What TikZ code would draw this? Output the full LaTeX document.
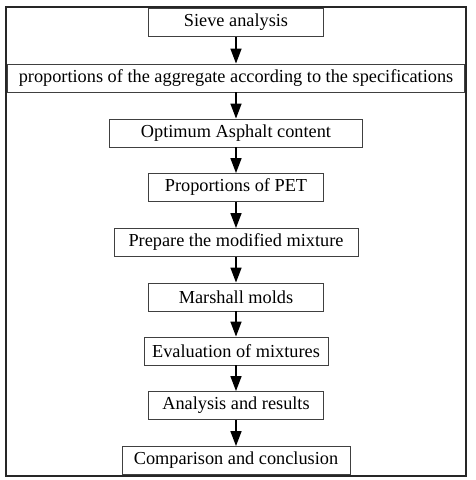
\documentclass[tikz,border=0pt]{standalone}
\usepackage{fontspec}
\setmainfont{Liberation Serif}
\usetikzlibrary{arrows.meta}
\tikzset{
    stage/.style={draw=black!75, line width=0.9pt, fill=white, minimum height=28pt,
        inner sep=2pt, font=\fontsize{18.3}{20}\selectfont},
    flow/.style={-{Triangle[length=15pt,width=11pt]}, line width=1.6pt, black}
}
\begin{document}
\begin{tikzpicture}[x=1pt,y=-1pt]
    \useasboundingbox (0,0) rectangle (475,480);
    % frame
    \draw [line width=2pt, black!85] (6,7) rectangle (466,476);
    % stages
    \node [stage, minimum width=175pt] (sieve) at (236,22.5) {Sieve analysis};
    \node [stage, minimum width=457pt] (aggr) at (236,78) {proportions of the aggregate according to the specifications};
    \node [stage, minimum width=253pt] (oac) at (236,133) {Optimum Asphalt content};
    \node [stage, minimum width=175pt] (pet) at (236,187.5) {Proportions of PET};
    \node [stage, minimum width=244pt] (prep) at (236,242.5) {Prepare the modified mixture};
    \node [stage, minimum width=175pt] (molds) at (236,297) {Marshall molds};
    \node [stage, minimum width=184pt] (eval) at (236,351) {Evaluation of mixtures};
    \node [stage, minimum width=175pt] (res) at (236,405.5) {Analysis and results};
    \node [stage, minimum width=228pt] (concl) at (236,460.5) {Comparison and conclusion};
    % arrows
    \foreach \a/\b in {sieve/aggr, aggr/oac, oac/pet, pet/prep, prep/molds, molds/eval, eval/res, res/concl}
        \draw [flow] (\a.south) -- (\b.north);
\end{tikzpicture}
\end{document}
